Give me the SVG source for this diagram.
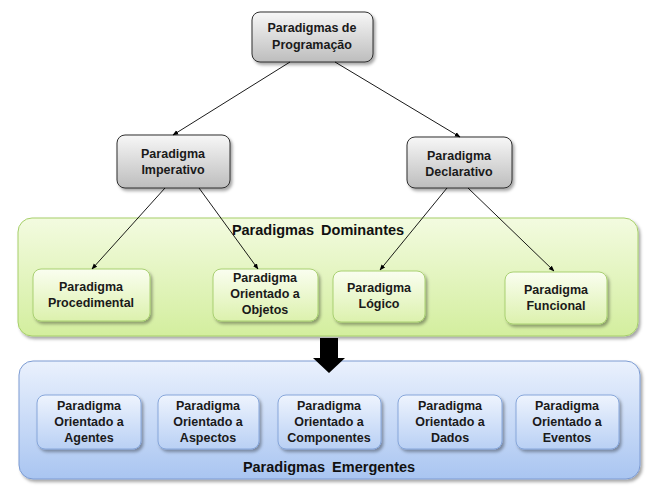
<svg xmlns="http://www.w3.org/2000/svg" width="655" height="488" viewBox="0 0 655 488">
  <defs>
    <linearGradient id="gGray" x1="0" y1="0" x2="0" y2="1">
      <stop offset="0" stop-color="#f7f7f7"/>
      <stop offset="1" stop-color="#bdbdbd"/>
    </linearGradient>
    <linearGradient id="gGreenBox" x1="0" y1="0" x2="0" y2="1">
      <stop offset="0" stop-color="#f3fbe0"/>
      <stop offset="1" stop-color="#d3ee9e"/>
    </linearGradient>
    <linearGradient id="gGreenNode" x1="0" y1="0" x2="0" y2="1">
      <stop offset="0" stop-color="#fafef0"/>
      <stop offset="1" stop-color="#dcf1ad"/>
    </linearGradient>
    <linearGradient id="gBlueBox" x1="0" y1="0" x2="0" y2="1">
      <stop offset="0" stop-color="#eaf1fd"/>
      <stop offset="1" stop-color="#a9c5f1"/>
    </linearGradient>
    <linearGradient id="gBlueNode" x1="0" y1="0" x2="0" y2="1">
      <stop offset="0" stop-color="#eef4fe"/>
      <stop offset="1" stop-color="#b9d0f4"/>
    </linearGradient>
    <filter id="shadow" x="-10%" y="-10%" width="130%" height="140%">
      <feDropShadow dx="2" dy="2.5" stdDeviation="1.5" flood-color="#000" flood-opacity="0.35"/>
    </filter>
    <marker id="arrow" viewBox="0 0 10 10" refX="9" refY="5" markerWidth="6.5" markerHeight="6.5" orient="auto-start-reverse">
      <path d="M0,1 L10,5 L0,9 z" fill="#000"/>
    </marker>
  </defs>
  <style>
    text { font-family: "Liberation Sans", Arial, sans-serif; font-weight: bold; font-size: 12.5px; fill: #1a1a1a; text-anchor: middle; }
    .title { font-size: 14.5px; word-spacing: 3px; fill: #111; }
    .gray { fill: url(#gGray); stroke: #2e2e2e; stroke-width: 1; filter: url(#shadow); }
    .greenBox { fill: url(#gGreenBox); stroke: #a6cf6a; stroke-width: 1; filter: url(#shadow); }
    .greenNode { fill: url(#gGreenNode); stroke: #a9d071; stroke-width: 1; filter: url(#shadow); }
    .blueBox { fill: url(#gBlueBox); stroke: #7c9bd2; stroke-width: 1; filter: url(#shadow); }
    .blueNode { fill: url(#gBlueNode); stroke: #86a6da; stroke-width: 1; filter: url(#shadow); }
    .link { stroke: #000; stroke-width: 0.9; fill: none; marker-end: url(#arrow); }
  </style>

  <!-- containers -->
  <g id="dominantes">
    <rect class="greenBox" x="18" y="218" width="620" height="118" rx="14"/>
    <text class="title" x="318" y="235">Paradigmas Dominantes</text>
  </g>
  <g id="emergentes">
    <rect class="blueBox" x="19" y="361" width="621" height="118" rx="14"/>
    <text class="title" x="329" y="472">Paradigmas Emergentes</text>
  </g>

  <!-- hierarchy nodes -->
  <g id="programacao">
    <rect class="gray" x="252" y="12" width="121" height="50" rx="8"/>
    <text x="312" y="32">Paradigmas de</text>
    <text x="312" y="49">Programação</text>
  </g>
  <g id="imperativo">
    <rect class="gray" x="117" y="135" width="113" height="53" rx="8"/>
    <text x="173" y="158">Paradigma</text>
    <text x="173" y="174">Imperativo</text>
  </g>
  <g id="declarativo">
    <rect class="gray" x="407" y="137" width="105" height="51" rx="8"/>
    <text x="459" y="160">Paradigma</text>
    <text x="459" y="176">Declarativo</text>
  </g>

  <g id="procedimental">
    <rect class="greenNode" x="33" y="269" width="117" height="52" rx="8"/>
    <text x="91" y="291">Paradigma</text>
    <text x="91" y="307">Procedimental</text>
  </g>
  <g id="objetos">
    <rect class="greenNode" x="213" y="269" width="105" height="52" rx="8"/>
    <text x="265" y="282">Paradigma</text>
    <text x="265" y="298">Orientado a</text>
    <text x="265" y="314">Objetos</text>
  </g>
  <g id="logico">
    <rect class="greenNode" x="333" y="271" width="92" height="51" rx="8"/>
    <text x="379" y="292">Paradigma</text>
    <text x="379" y="308">Lógico</text>
  </g>
  <g id="funcional">
    <rect class="greenNode" x="505" y="272" width="102" height="52" rx="8"/>
    <text x="556" y="294">Paradigma</text>
    <text x="556" y="310">Funcional</text>
  </g>

  <g id="agentes">
    <rect class="blueNode" x="37" y="395" width="104" height="54" rx="8"/>
    <text x="89" y="410">Paradigma</text>
    <text x="89" y="426">Orientado a</text>
    <text x="89" y="442">Agentes</text>
  </g>
  <g id="aspectos">
    <rect class="blueNode" x="158" y="395" width="101" height="54" rx="8"/>
    <text x="208" y="410">Paradigma</text>
    <text x="208" y="426">Orientado a</text>
    <text x="208" y="442">Aspectos</text>
  </g>
  <g id="componentes">
    <rect class="blueNode" x="278" y="395" width="103" height="54" rx="8"/>
    <text x="329" y="410">Paradigma</text>
    <text x="329" y="426">Orientado a</text>
    <text x="329" y="442">Componentes</text>
  </g>
  <g id="dados">
    <rect class="blueNode" x="398" y="395" width="104" height="54" rx="8"/>
    <text x="450" y="410">Paradigma</text>
    <text x="450" y="426">Orientado a</text>
    <text x="450" y="442">Dados</text>
  </g>
  <g id="eventos">
    <rect class="blueNode" x="516" y="395" width="103" height="54" rx="8"/>
    <text x="567" y="410">Paradigma</text>
    <text x="567" y="426">Orientado a</text>
    <text x="567" y="442">Eventos</text>
  </g>

  <!-- connectors -->
  <g id="connectors">
    <line class="link" x1="290" y1="62" x2="173" y2="135"/>
    <line class="link" x1="335" y1="62" x2="460" y2="137"/>
    <line class="link" x1="165" y1="188" x2="92" y2="269"/>
    <line class="link" x1="199" y1="188" x2="258" y2="269"/>
    <line class="link" x1="447" y1="188" x2="380" y2="270"/>
    <line class="link" x1="468" y1="188" x2="554" y2="271"/>
    <!-- block arrow between the two groups -->
    <path d="M320,338 H338 V358 H345 L329,373 L313,358 H320 Z" fill="#000"/>
  </g>
</svg>
